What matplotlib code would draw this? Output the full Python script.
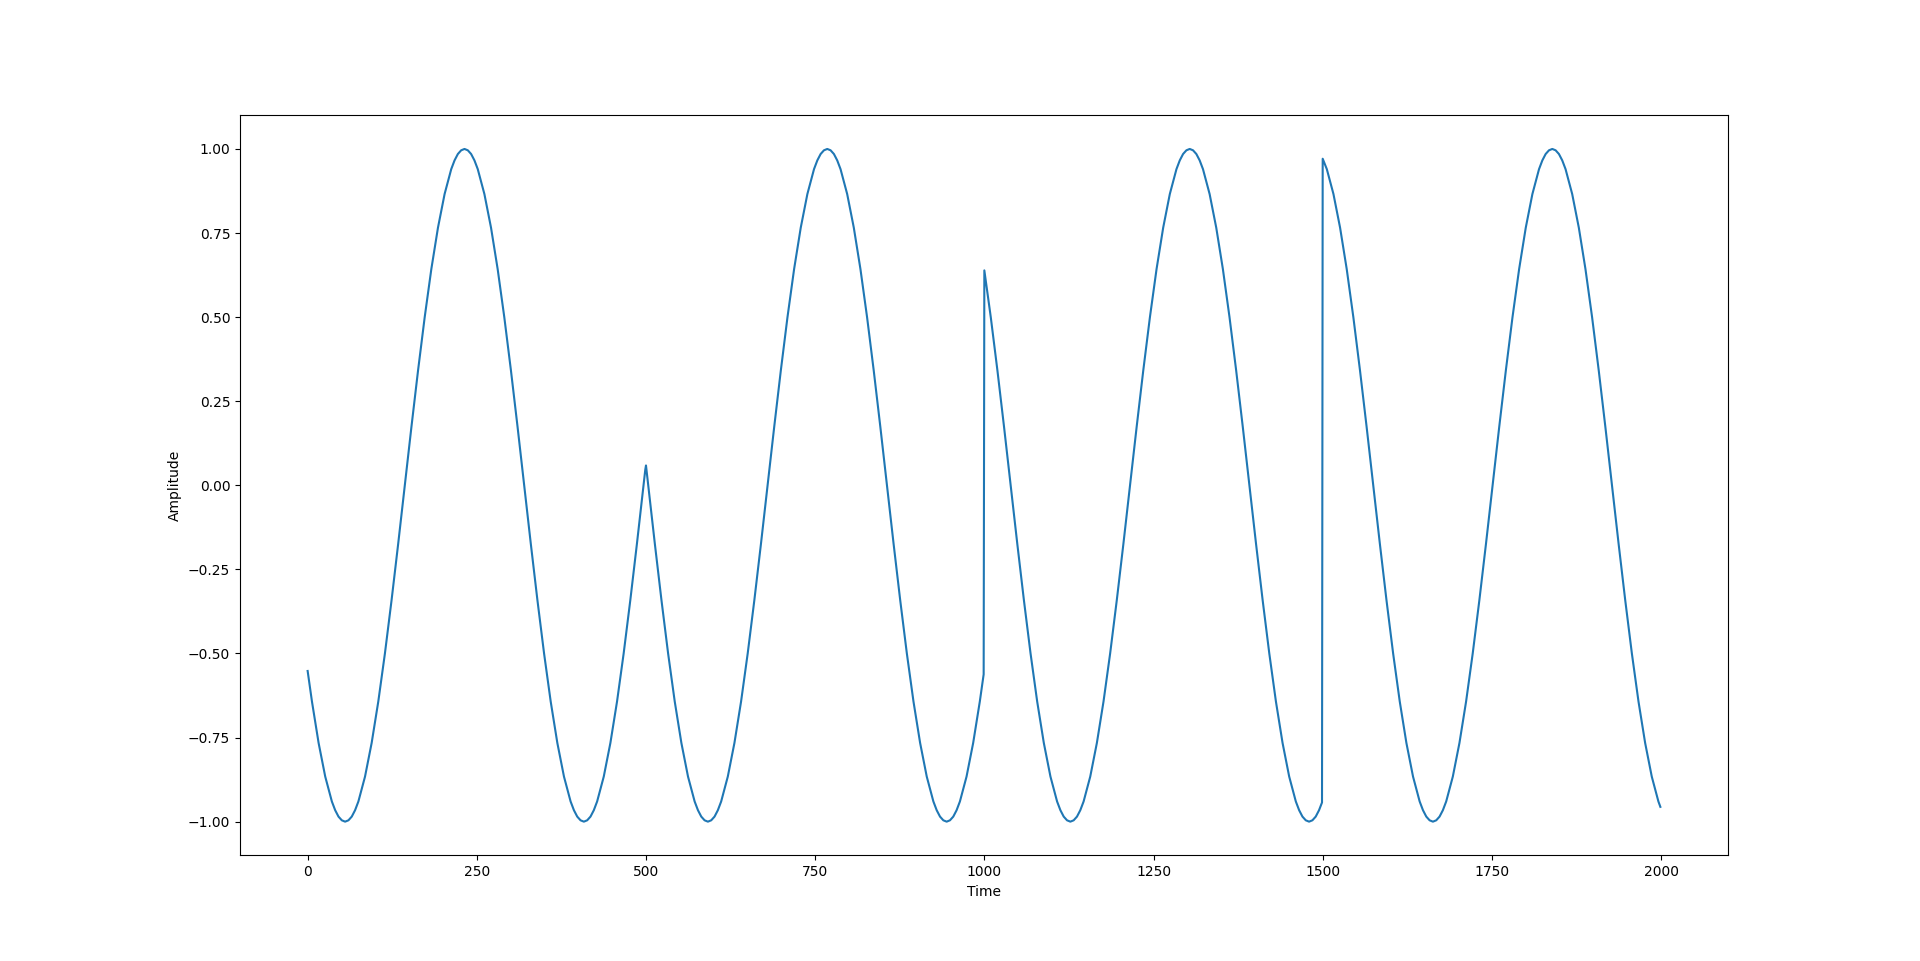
import matplotlib.pyplot as plt

# Values (signal with phase jumps every 500 samples)
seg1_time = [0, 6.4, 16.2, 26.0, 35.8, 45.6, 55.4, 65.2, 75.0, 84.8, 94.6,
             104.4, 114.2, 124.0, 133.8, 143.6, 153.4, 163.2, 173.0, 182.8, 192.6,
             202.4, 212.2, 222.0, 231.8, 241.6, 251.4, 261.2, 271.0, 280.8, 290.6,
             300.4, 310.2, 320.0, 329.8, 339.6, 349.4, 359.2, 369.0, 378.8, 388.6,
             398.4, 408.2, 418.0, 427.8, 437.6, 447.4, 457.2, 467.0, 476.8, 486.6,
             496.4, 499]
seg1_amp = [-0.552, -0.643, -0.766, -0.866, -0.940, -0.985, -1.0, -0.985, -0.940, -0.866, -0.766,
            -0.643, -0.5, -0.342, -0.174, 0.0, 0.174, 0.342, 0.5, 0.643, 0.766,
            0.866, 0.940, 0.985, 1.0, 0.985, 0.940, 0.866, 0.766, 0.643, 0.5,
            0.342, 0.174, 0.0, -0.174, -0.342, -0.5, -0.643, -0.766, -0.866, -0.940,
            -0.985, -1.0, -0.985, -0.940, -0.866, -0.766, -0.643, -0.5, -0.342, -0.174,
            0.0, 0.047]

seg2_time = [500, 503.3, 513.1, 522.9, 532.7, 542.5, 552.3, 562.1, 571.9, 581.7, 591.5,
             601.3, 611.1, 620.9, 630.7, 640.5, 650.3, 660.1, 669.9, 679.7, 689.5,
             699.3, 709.1, 718.9, 728.7, 738.5, 748.3, 758.1, 767.9, 777.7, 787.5,
             797.3, 807.1, 816.9, 826.7, 836.5, 846.3, 856.1, 865.9, 875.7, 885.5,
             895.3, 905.1, 914.9, 924.7, 934.5, 944.3, 954.1, 963.9, 973.7, 983.5,
             993.3, 999]
seg2_amp = [0.059, 0.0, -0.174, -0.342, -0.5, -0.643, -0.766, -0.866, -0.940, -0.985, -1.0,
            -0.985, -0.940, -0.866, -0.766, -0.643, -0.5, -0.342, -0.174, 0.0, 0.174,
            0.342, 0.5, 0.643, 0.766, 0.866, 0.940, 0.985, 1.0, 0.985, 0.940,
            0.866, 0.766, 0.643, 0.5, 0.342, 0.174, 0.0, -0.174, -0.342, -0.5,
            -0.643, -0.766, -0.866, -0.940, -0.985, -1.0, -0.985, -0.940, -0.866, -0.766,
            -0.643, -0.562]

seg3_time = [1000, 1009.5, 1019.3, 1029.1, 1038.9, 1048.7, 1058.5, 1068.3, 1078.1, 1087.9, 1097.7,
             1107.5, 1117.3, 1127.1, 1136.9, 1146.7, 1156.5, 1166.3, 1176.1, 1185.9, 1195.7,
             1205.5, 1215.3, 1225.1, 1234.9, 1244.7, 1254.5, 1264.3, 1274.1, 1283.9, 1293.7,
             1303.5, 1313.3, 1323.1, 1332.9, 1342.7, 1352.5, 1362.3, 1372.1, 1381.9, 1391.7,
             1401.5, 1411.3, 1421.1, 1430.9, 1440.7, 1450.5, 1460.3, 1470.1, 1479.9, 1489.7,
             1499]
seg3_amp = [0.639, 0.5, 0.342, 0.174, 0.0, -0.174, -0.342, -0.5, -0.643, -0.766, -0.866,
            -0.940, -0.985, -1.0, -0.985, -0.940, -0.866, -0.766, -0.643, -0.5, -0.342,
            -0.174, 0.0, 0.174, 0.342, 0.5, 0.643, 0.766, 0.866, 0.940, 0.985,
            1.0, 0.985, 0.940, 0.866, 0.766, 0.643, 0.5, 0.342, 0.174, 0.0,
            -0.174, -0.342, -0.5, -0.643, -0.766, -0.866, -0.940, -0.985, -1.0, -0.985,
            -0.943]

seg4_time = [1500, 1506.1, 1515.9, 1525.7, 1535.5, 1545.3, 1555.1, 1564.9, 1574.7, 1584.5, 1594.3,
             1604.1, 1613.9, 1623.7, 1633.5, 1643.3, 1653.1, 1662.9, 1672.7, 1682.5, 1692.3,
             1702.1, 1711.9, 1721.7, 1731.5, 1741.3, 1751.1, 1760.9, 1770.7, 1780.5, 1790.3,
             1800.1, 1809.9, 1819.7, 1829.5, 1839.3, 1849.1, 1858.9, 1868.7, 1878.5, 1888.3,
             1898.1, 1907.9, 1917.7, 1927.5, 1937.3, 1947.1, 1956.9, 1966.7, 1976.5, 1986.3,
             1996.1, 1999]
seg4_amp = [0.971, 0.940, 0.866, 0.766, 0.643, 0.5, 0.342, 0.174, 0.0, -0.174, -0.342,
            -0.5, -0.643, -0.766, -0.866, -0.940, -0.985, -1.0, -0.985, -0.940, -0.866,
            -0.766, -0.643, -0.5, -0.342, -0.174, 0.0, 0.174, 0.342, 0.5, 0.643,
            0.766, 0.866, 0.940, 0.985, 1.0, 0.985, 0.940, 0.866, 0.766, 0.643,
            0.5, 0.342, 0.174, 0.0, -0.174, -0.342, -0.5, -0.643, -0.766, -0.866,
            -0.940, -0.956]

# extra readings around each peak / trough, where the curve bends most
peak_time = [40.7, 50.5, 60.3, 70.1, 217.1, 226.9, 236.7, 246.5, 393.5, 403.3, 413.1, 422.9,
             576.8, 586.6, 596.4, 606.2, 753.2, 763.0, 772.8, 782.6, 929.6, 939.4, 949.2, 959.0,
             1112.4, 1122.2, 1132.0, 1141.8, 1288.8, 1298.6, 1308.4, 1318.2,
             1465.2, 1475.0, 1484.8, 1494.6,
             1648.2, 1658.0, 1667.8, 1677.6, 1824.6, 1834.4, 1844.2, 1854.0]
peak_amp = [-0.966, -0.996, -0.996, -0.966, 0.966, 0.996, 0.996, 0.966, -0.966, -0.996, -0.996, -0.966,
            -0.966, -0.996, -0.996, -0.966, 0.966, 0.996, 0.996, 0.966, -0.966, -0.996, -0.996, -0.966,
            -0.966, -0.996, -0.996, -0.966, 0.966, 0.996, 0.996, 0.966,
            -0.966, -0.996, -0.996, -0.966,
            -0.966, -0.996, -0.996, -0.966, 0.966, 0.996, 0.996, 0.966]

points = sorted(zip(seg1_time + seg2_time + seg3_time + seg4_time + peak_time,
                    seg1_amp + seg2_amp + seg3_amp + seg4_amp + peak_amp))
time = [p[0] for p in points]
amplitude = [p[1] for p in points]

plt.figure(figsize=(19.2, 9.61), dpi=100)
plt.plot(time, amplitude, color="#1f77b4", linewidth=1.5)
plt.xlabel("Time")
plt.ylabel("Amplitude")
plt.savefig("out.png", dpi=100)
